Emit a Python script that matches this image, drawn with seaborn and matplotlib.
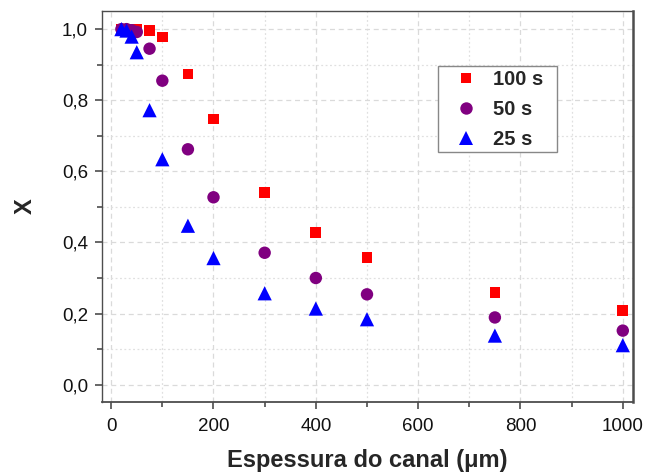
import matplotlib
matplotlib.use("Agg")
import matplotlib.pyplot as plt
from matplotlib.patches import Rectangle
from matplotlib.ticker import MultipleLocator, FuncFormatter
import seaborn as sns
import pandas as pd

# Channel thickness (µm) and conversion X for each residence time
espessura = [20, 30, 40, 50, 75, 100, 150, 200, 300, 400, 500, 750, 1000]
x_100s = [1.000, 1.000, 1.000, 1.000, 0.997, 0.978, 0.874, 0.747, 0.541, 0.428, 0.357, 0.260, 0.209]
x_50s = [1.000, 1.000, 0.997, 0.992, 0.945, 0.855, 0.662, 0.527, 0.371, 0.300, 0.254, 0.189, 0.152]
x_25s = [1.000, 0.996, 0.979, 0.935, 0.772, 0.634, 0.447, 0.356, 0.257, 0.214, 0.184, 0.138, 0.111]

series = ["100 s", "50 s", "25 s"]
colors = {"100 s": "#ff0000", "50 s": "#800080", "25 s": "#0000ff"}
markers = {"100 s": "s", "50 s": "o", "25 s": "^"}
sizes = {"100 s": 60, "50 s": 80, "25 s": 105}

df = pd.DataFrame({
    "espessura": espessura * 3,
    "X": x_100s + x_50s + x_25s,
    "serie": [s for s in series for _ in espessura],
})

sns.set_style("white")
plt.rcParams["font.family"] = ["Liberation Sans", "DejaVu Sans"]

fig = plt.figure(figsize=(6.47, 4.74), dpi=100)
ax = fig.add_axes([0.1576, 0.1525, 0.8208, 0.8243])

sns.scatterplot(
    data=df, x="espessura", y="X",
    hue="serie", style="serie", size="serie",
    hue_order=series, style_order=series, size_order=series,
    palette=colors, markers=markers, sizes=sizes,
    linewidth=0, alpha=1, ax=ax, zorder=3,
)

ax.set_xlim(-18, 1020)
ax.set_ylim(-0.048, 1.051)

ax.xaxis.set_major_locator(MultipleLocator(200))
ax.xaxis.set_minor_locator(MultipleLocator(100))
ax.yaxis.set_major_locator(MultipleLocator(0.2))
ax.yaxis.set_minor_locator(MultipleLocator(0.1))
ax.yaxis.set_major_formatter(FuncFormatter(lambda v, p: f"{v:.1f}".replace(".", ",")))

frame_color = "#4d4d4d"
ax.tick_params(which="major", direction="out", length=5, width=1.2,
               color=frame_color, labelsize=13.5, labelcolor="#111111",
               bottom=True, left=True, top=False, right=False)
ax.tick_params(axis="x", which="major", pad=7)
ax.tick_params(axis="y", which="major", pad=5)
ax.tick_params(which="minor", direction="out", length=3.5, width=1.2,
               color=frame_color, bottom=True, left=True)

ax.grid(which="major", color="#dadada", linestyle=(0, (4, 3)), linewidth=0.9, zorder=0)
ax.grid(which="minor", color="#e0e0e0", linestyle=(0, (1.5, 2)), linewidth=0.9, zorder=0)
ax.set_axisbelow(True)

for side, sp in ax.spines.items():
    sp.set_visible(True)
    sp.set_color(frame_color)
    sp.set_linewidth(1.0)
ax.spines["right"].set_linewidth(1.8)
ax.spines["bottom"].set_linewidth(1.3)

ax.set_xlabel("Espessura do canal (\u03bcm)", fontsize=17, fontweight="bold", labelpad=10)
ax.set_ylabel("X", fontsize=17, fontweight="bold", labelpad=18)

# Legend entries without frame, boxed by a separate rectangle
handles, labels = ax.get_legend_handles_labels()
leg = ax.legend(
    handles, labels,
    loc="upper left", bbox_to_anchor=(0.648, 0.849),
    frameon=False,
    prop={"weight": "bold", "size": 14.5},
    handlelength=2.0, handletextpad=0.35, labelspacing=0.55, borderpad=0,
    markerscale=1.0, borderaxespad=0,
)
ax.add_patch(Rectangle((0.633, 0.639), 0.224, 0.220, transform=ax.transAxes,
                       facecolor="white", edgecolor="#888888", linewidth=1.0,
                       zorder=4))
leg.set_zorder(5)

fig.savefig("out.png", dpi=100)
